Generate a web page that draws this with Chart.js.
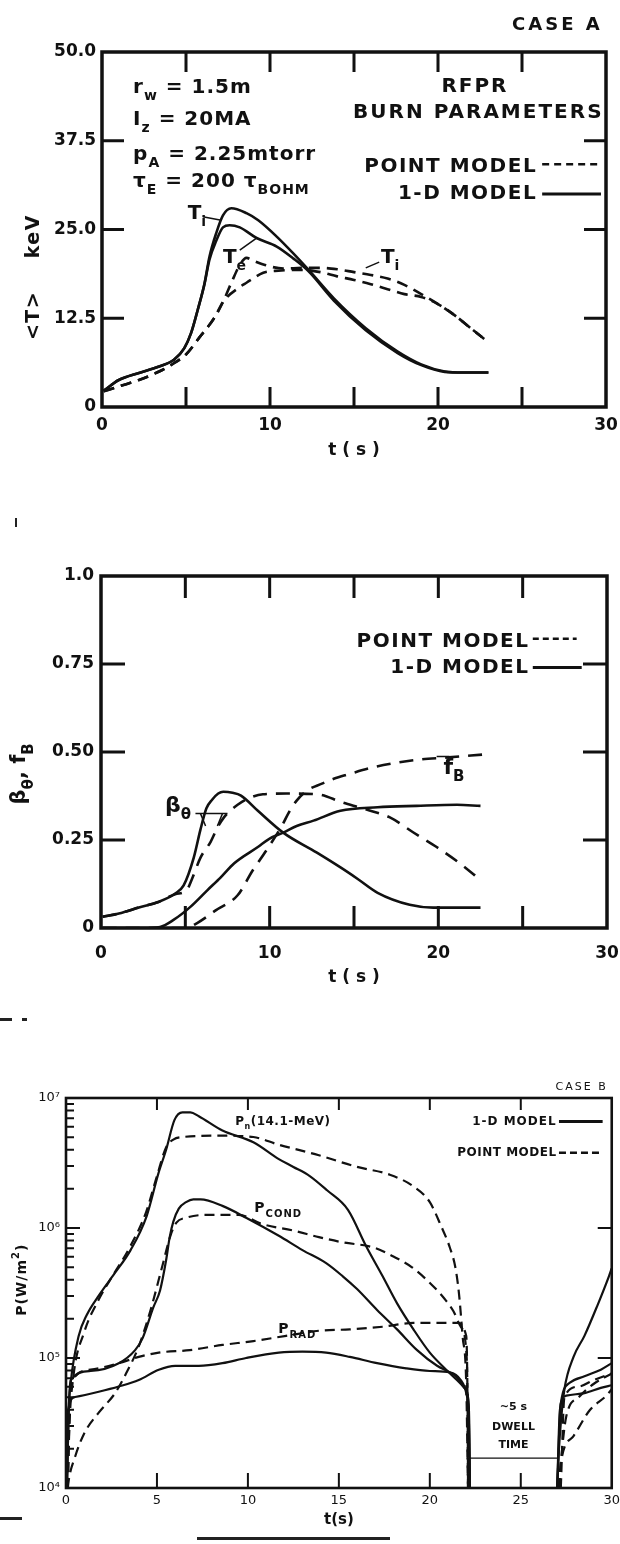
<!DOCTYPE html>
<html>
<head>
<meta charset="utf-8">
<script src="https://cdn.jsdelivr.net/npm/chart.js@4.4.1/dist/chart.umd.min.js"></script>
<style>
  html, body { margin: 0; padding: 0; background: #fff; }
  body { width: 620px; height: 1544px; position: relative; overflow: hidden; }
  canvas { position: absolute; left: 0; }
  .speck { position: absolute; background: #222; }
</style>
</head>
<body>
<canvas id="tempChart" width="620" height="470" style="top:0"></canvas>
<canvas id="betaChart" width="620" height="520" style="top:480px"></canvas>
<canvas id="powerChart" width="620" height="544" style="top:1000px"></canvas>

<div class="speck" style="left:15px;top:518px;width:2px;height:9px"></div>
<div class="speck" style="left:0;top:1018px;width:12px;height:3px"></div>
<div class="speck" style="left:22px;top:1018px;width:5px;height:3px"></div>
<div class="speck" style="left:0;top:1517px;width:22px;height:3px"></div>
<div class="speck" style="left:197px;top:1537px;width:193px;height:3px"></div>

<script>
// ---- panel 1 : <T> (keV) vs t (s) ----
const timeTicks = [0, 10, 20, 30];
const timeMarks = [5, 10, 15, 20, 25];
const tempTicks = [0, 12.5, 25, 37.5, 50];
const tempTickLabels = ["0", "12.5", "25.0", "37.5", "50.0"];
const tempMarks = [12.5, 25, 37.5];

const tiOneD = [[0.1,2.3],[1.0,3.8],[2.2,4.8],[3.4,5.7],[4.3,6.7],[4.9,8.3],[5.3,10.4],[5.7,13.7],[6.1,17.4],[6.4,21.2],[6.8,24.5],[7.2,27.0],[7.7,28.0],[8.6,27.3],[9.3,26.3],[10.4,24.0],[11.4,21.6],[12.3,19.3],[13.8,15.3],[15.7,11.1],[17.6,7.8],[19.0,6.0],[20.4,5.0],[21.5,4.85],[23.0,4.85]];
const teOneD = [[0.1,2.3],[1.0,3.8],[2.2,4.8],[3.4,5.7],[4.3,6.7],[4.9,8.3],[5.3,10.4],[5.7,13.7],[6.1,17.3],[6.4,20.8],[6.8,23.4],[7.2,25.3],[7.6,25.6],[8.2,25.3],[9.2,23.8],[10.4,22.6],[11.4,20.9],[12.3,19.1],[13.8,15.0],[15.7,10.8],[17.6,7.6],[19.0,5.9],[20.4,4.95],[21.5,4.85],[23.0,4.85]];
const tePoint = [[0.1,2.2],[1.0,2.9],[2.2,3.8],[3.4,5.0],[4.3,6.2],[5.0,7.4],[5.8,9.8],[6.7,12.6],[7.2,14.8],[7.7,17.5],[8.2,20.0],[8.6,21.0],[9.0,20.6],[9.7,20.0],[10.8,19.5],[12.0,19.6],[13.0,19.6],[14.0,19.4],[15.0,19.0],[16.0,18.6],[17.0,18.1],[18.0,17.2],[19.0,15.9],[20.0,14.5],[21.0,12.9],[22.0,11.0],[22.8,9.5]];
const tiPoint = [[0.1,2.2],[1.0,2.9],[2.2,3.8],[3.4,5.0],[4.3,6.2],[5.0,7.4],[5.8,9.8],[6.7,12.6],[7.2,14.8],[8.2,16.9],[8.6,17.5],[9.6,18.9],[10.5,19.2],[12.0,19.3],[13.0,19.0],[14.0,18.4],[15.0,17.9],[16.0,17.3],[17.0,16.6],[18.0,15.9],[19.0,15.5],[20.0,14.5],[21.0,12.9],[22.0,11.0],[22.8,9.5]];

// ---- panel 2 : beta_theta, f_B vs t (s) ----
const fracTicks = [0, 0.25, 0.5, 0.75, 1.0];
const fracTickLabels = ["0", "0.25", "0.50", "0.75", "1.0"];
const fracMarks = [0.25, 0.5, 0.75];

const betaOneD = [[0.1,0.032],[1.06,0.041],[2.3,0.059],[3.4,0.074],[4.4,0.098],[4.9,0.121],[5.5,0.2],[5.9,0.28],[6.25,0.34],[6.6,0.365],[6.95,0.382],[7.25,0.387],[7.8,0.384],[8.3,0.376],[9.3,0.333],[10.8,0.271],[12.8,0.214],[14.2,0.172],[15.2,0.14],[16.4,0.1],[18.3,0.066],[19.7,0.058],[22.5,0.058]];
const betaPoint = [[0.1,0.032],[1.06,0.041],[2.3,0.059],[3.4,0.074],[4.4,0.096],[5.07,0.107],[5.4,0.14],[5.9,0.2],[6.5,0.245],[6.9,0.285],[7.3,0.315],[7.7,0.335],[8.1,0.35],[8.6,0.365],[9.6,0.38],[11.0,0.382],[12.8,0.38],[14.3,0.357],[15.7,0.337],[17.1,0.315],[18.5,0.272],[19.9,0.23],[21.3,0.183],[22.5,0.136]];
const fbOneD = [[0.1,0.0],[2.5,0.0],[3.5,0.003],[4.3,0.023],[5.3,0.06],[6.3,0.107],[7.1,0.144],[7.9,0.184],[9.3,0.23],[10.0,0.254],[10.8,0.271],[11.6,0.29],[12.6,0.305],[14.2,0.333],[16.4,0.343],[18.7,0.347],[21.1,0.35],[22.5,0.347]];
const fbPoint = [[0.1,0.0],[5.0,0.0],[5.7,0.014],[6.8,0.05],[8.1,0.093],[9.0,0.164],[9.8,0.22],[10.8,0.297],[11.1,0.325],[11.6,0.362],[12.2,0.39],[13.1,0.41],[13.8,0.424],[14.7,0.437],[16.1,0.456],[17.6,0.47],[19.0,0.479],[20.4,0.484],[22.7,0.493]];

// ---- panel 3 : P (W/m^2) vs t (s), log axis ----
const cycleTicks = [0, 5, 10, 15, 20, 25, 30];
const powerTicks = [1e4, 1e5, 1e6, 1e7];
const powerTickLabels = ["10\u2074", "10\u2075", "10\u2076", "10\u2077"];
const powerMarks = [1e5, 1e6];
const powerMinor = [2e4,3e4,4e4,5e4,6e4,7e4,8e4,9e4,2e5,3e5,4e5,5e5,6e5,7e5,8e5,9e5,2e6,3e6,4e6,5e6,6e6,7e6,8e6,9e6];

const pnOneD = [[0.05,1e4],[0.15,3.98e4],[0.26,6.46e4],[0.7,1.48e5],[1.14,2.14e5],[1.8,3.02e5],[2.67,4.47e5],[3.55,6.76e5],[4.43,1.23e6],[5.08,2.63e6],[5.5,3.98e6],[5.96,6.76e6],[6.4,7.76e6],[6.84,7.76e6],[7.3,7.24e6],[8.6,5.62e6],[10.3,4.57e6],[11.7,3.39e6],[12.5,2.95e6],[13.4,2.51e6],[14.35,1.95e6],[15.5,1.38e6],[16.5,7.24e5],[17.4,4.27e5],[18.2,2.63e5],[19.1,1.66e5],[20.0,1.10e5],[20.9,8.13e4],[21.5,6.76e4],[21.96,5.75e4],[22.15,3.98e4],[22.2,1e4],[24.5,null],[27.0,1e4],[27.1,2.0e4],[27.2,3.16e4],[27.4,5.75e4],[27.9,1.02e5],[28.5,1.48e5],[29.2,2.51e5],[29.85,4.27e5],[30,4.9e5]];
const pnPoint = [[0.1,1e4],[0.18,2.82e4],[0.4,7.08e4],[1.0,1.58e5],[1.8,2.82e5],[2.6,4.37e5],[3.5,7.08e5],[4.4,1.32e6],[5.0,2.51e6],[5.5,4.17e6],[5.9,4.79e6],[6.4,5.01e6],[8.6,5.13e6],[10.3,5.01e6],[11.7,4.37e6],[13.9,3.63e6],[16.0,2.95e6],[17.8,2.57e6],[19.1,2.09e6],[20.0,1.58e6],[20.6,1.05e6],[21.1,7.08e5],[21.4,5.01e5],[21.6,3.16e5],[21.8,1.48e5],[22.0,6.46e4],[22.1,1e4],[24.5,null],[27.1,1e4],[27.2,1.55e4],[27.5,3.55e4],[28.2,5.01e4],[29.0,6.31e4],[30,7.59e4]];
const pcondOneD = [[0.05,1e4],[0.15,3.98e4],[0.26,6.76e4],[1.36,7.94e4],[2.9,9.12e4],[3.8,1.15e5],[4.2,1.41e5],[4.8,2.45e5],[5.17,3.31e5],[5.5,5.62e5],[5.7,8.51e5],[5.9,1.12e6],[6.2,1.41e6],[6.6,1.58e6],[7.0,1.66e6],[7.4,1.66e6],[8.6,1.48e6],[9.9,1.20e6],[11.7,8.71e5],[13.0,6.76e5],[14.3,5.37e5],[15.2,4.27e5],[16.0,3.39e5],[17.1,2.34e5],[18.2,1.66e5],[19.3,1.15e5],[20.4,8.71e4],[21.1,7.76e4],[21.5,7.08e4],[21.96,5.75e4],[22.15,3.98e4],[22.2,1e4],[24.5,null],[27.0,1e4],[27.15,3.98e4],[27.7,6.46e4],[28.5,7.24e4],[29.4,8.13e4],[30,9.12e4]];
const pcondPoint = [[0.1,1e4],[0.15,1.15e4],[0.5,1.74e4],[1.0,2.63e4],[1.8,3.8e4],[2.7,5.37e4],[3.3,7.59e4],[4.0,1.23e5],[4.65,2.34e5],[5.3,5.13e5],[5.74,8.71e5],[6.07,1.10e6],[6.6,1.20e6],[7.7,1.26e6],[9.5,1.26e6],[10.8,1.07e6],[12.5,9.55e5],[13.9,8.51e5],[15.2,7.76e5],[16.9,7.08e5],[18.0,6.03e5],[19.0,5.01e5],[20.2,3.55e5],[20.9,2.75e5],[21.3,2.29e5],[21.7,1.74e5],[22.0,1.15e5],[22.08,3.55e4],[22.1,1e4],[24.5,null],[27.1,1e4],[27.2,1.55e4],[27.9,2.51e4],[28.8,3.98e4],[29.7,5.13e4],[30,5.75e4]];
const pradOneD = [[0.05,1e4],[0.12,3.98e4],[0.5,5.01e4],[1.8,5.5e4],[2.9,6.03e4],[4.0,6.76e4],[5.1,8.13e4],[6.0,8.71e4],[7.3,8.71e4],[8.6,9.12e4],[9.9,1.0e5],[11.7,1.10e5],[13.0,1.12e5],[14.3,1.10e5],[15.6,1.02e5],[17.1,9.12e4],[18.7,8.32e4],[20.0,7.94e4],[21.1,7.76e4],[21.7,6.76e4],[22.0,5.37e4],[22.15,3.16e4],[22.2,1e4],[24.5,null],[27.0,1e4],[27.2,4.47e4],[27.5,5.13e4],[28.5,5.37e4],[29.4,5.89e4],[30,6.17e4]];
const pradPoint = [[0.1,1e4],[0.2,3.98e4],[0.37,6.76e4],[1.36,8.13e4],[2.9,9.12e4],[4.0,1.02e5],[5.1,1.10e5],[6.8,1.15e5],[8.6,1.26e5],[10.3,1.35e5],[12.1,1.48e5],[13.9,1.62e5],[15.6,1.66e5],[17.4,1.74e5],[19.1,1.86e5],[20.4,1.86e5],[21.5,1.86e5],[22.0,1.48e5],[22.08,3.55e4],[22.1,1e4],[24.5,null],[27.2,1e4],[27.4,5.01e4],[28.2,6.03e4],[29.0,6.76e4],[30,7.59e4]];
const dwellLevel = [[22.2,1.7e4],[27.0,1.7e4]];

const INK = "#111";
const FAMILY = '"DejaVu Sans", sans-serif';
Chart.defaults.font.family = "DejaVu Sans";
Chart.defaults.color = INK;

function series(label, points, width, dash) {
  return {
    label,
    data: points.map(p => ({ x: p[0], y: p[1] })),
    borderColor: INK,
    borderWidth: width,
    borderDash: dash || [],
    borderJoinStyle: "round",
    pointRadius: 0,
    fill: false,
    spanGaps: false,
    cubicInterpolationMode: "monotone"
  };
}

// label gap comes from the (undrawn) tick length so it does not widen the side padding
function axis(o) {
  return {
    type: o.type || "linear",
    min: o.min,
    max: o.max,
    grid: { display: false, drawTicks: true, tickLength: o.pad },
    border: { display: false },
    afterBuildTicks: s => { s.ticks = o.ticks.map(v => ({ value: v })); },
    afterFit: s => {
      if (o.width) s.width = o.width;
      if (o.height) s.height = o.height;
    },
    ticks: {
      color: INK,
      autoSkip: false,
      maxRotation: 0,
      padding: 0,
      font: o.font,
      callback: (v, i) => o.labels[i]
    },
    title: o.title ? {
      display: true,
      text: o.title.text,
      color: INK,
      font: o.title.font,
      padding: { top: 0, bottom: o.title.bottom }
    } : { display: false }
  };
}

// rich text: parts = [[text, "sub"|"sup"|undefined], ...]
function label(ctx, x, y, parts, o = {}) {
  const size = o.size || 20;
  const weight = o.weight || "bold";
  ctx.save();
  ctx.translate(x, y);
  if (o.rotate) ctx.rotate(-Math.PI / 2);
  ctx.fillStyle = INK;
  ctx.textBaseline = "middle";
  ctx.textAlign = "left";
  ctx.letterSpacing = (o.spacing || 0) + "px";
  const fontOf = p => `${weight} ${p[1] ? Math.round(size * 0.7) : size}px ${FAMILY}`;
  const widths = parts.map(p => { ctx.font = fontOf(p); return ctx.measureText(p[0]).width; });
  const total = widths.reduce((s, w) => s + w, 0);
  let cx = o.align === "right" ? -total : o.align === "center" ? -total / 2 : 0;
  parts.forEach((p, i) => {
    ctx.font = fontOf(p);
    const dy = p[1] === "sub" ? size * 0.42 : p[1] === "sup" ? -size * 0.38 : 0;
    ctx.fillText(p[0], cx, dy);
    cx += widths[i];
  });
  ctx.restore();
}

function stroke(ctx, pts, width, dash) {
  ctx.save();
  ctx.strokeStyle = INK;
  ctx.lineWidth = width;
  ctx.setLineDash(dash || []);
  ctx.beginPath();
  pts.forEach((p, i) => (i ? ctx.lineTo(p[0], p[1]) : ctx.moveTo(p[0], p[1])));
  ctx.stroke();
  ctx.restore();
}

// box, inward tick marks and annotations
function framePlugin(cfg) {
  return {
    id: "frame",
    afterDatasetsDraw(chart) {
      const { ctx, chartArea: a, scales: { x, y } } = chart;
      ctx.save();
      ctx.strokeStyle = INK;
      ctx.lineWidth = cfg.tickWidth;
      ctx.beginPath();
      cfg.xMarks.forEach(v => {
        const px = x.getPixelForValue(v);
        ctx.moveTo(px, a.bottom); ctx.lineTo(px, a.bottom - cfg.tickLen);
        ctx.moveTo(px, a.top); ctx.lineTo(px, a.top + cfg.topLen);
      });
      cfg.yMarks.forEach(v => {
        const py = y.getPixelForValue(v);
        ctx.moveTo(a.left, py); ctx.lineTo(a.left + cfg.sideLen, py);
        ctx.moveTo(a.right, py); ctx.lineTo(a.right - cfg.sideLen, py);
      });
      (cfg.yMinor || []).forEach(v => {
        const py = y.getPixelForValue(v);
        ctx.moveTo(a.left, py); ctx.lineTo(a.left + cfg.minorLen, py);
      });
      ctx.stroke();
      ctx.lineWidth = cfg.frameWidth;
      ctx.strokeRect(a.left, a.top, a.right - a.left, a.bottom - a.top);
      ctx.restore();
      cfg.annotate(chart);
    }
  };
}

const baseOptions = (padding, scales) => ({
  responsive: false,
  animation: false,
  devicePixelRatio: 1,
  events: [],
  layout: { padding },
  plugins: { legend: { display: false }, tooltip: { enabled: false } },
  scales
});

// ---------- panel 1 ----------
const bigTick = { size: 17, weight: "bold" };
new Chart(document.getElementById("tempChart"), {
  type: "line",
  data: {
    datasets: [
      series("T_i 1-D model", tiOneD, 2.6),
      series("T_e 1-D model", teOneD, 2.6),
      series("T_e point model", tePoint, 2.6, [11, 7]),
      series("T_i point model", tiPoint, 2.6, [11, 7])
    ]
  },
  options: baseOptions({ top: 52, right: 14, left: 0, bottom: 0 }, {
    x: axis({ min: 0, max: 30, ticks: timeTicks, labels: timeTicks.map(String), height: 63, pad: 8, font: bigTick,
      title: { text: "t ( s )", font: { size: 17, weight: "bold" }, bottom: 9 } }),
    y: axis({ min: 0, max: 50, ticks: tempTicks, labels: tempTickLabels, width: 102, pad: 6, font: bigTick })
  }),
  plugins: [framePlugin({
    xMarks: timeMarks, yMarks: tempMarks, tickLen: 20, topLen: 20, sideLen: 22,
    tickWidth: 3, frameWidth: 3.5,
    annotate(chart) {
      const { ctx, chartArea: a, scales: { x, y } } = chart;
      const X = v => x.getPixelForValue(v), Y = v => y.getPixelForValue(v);
      const big = { size: 20, spacing: 1 };
      label(ctx, X(29.8), a.top - 27, [["CASE A"]], { size: 18, align: "right", spacing: 3 });
      label(ctx, X(1.85), Y(44.9), [["r"], ["w", "sub"], [" = 1.5m"]], big);
      label(ctx, X(1.85), Y(40.4), [["I"], ["z", "sub"], [" = 20MA"]], big);
      label(ctx, X(1.85), Y(35.5), [["p"], ["A", "sub"], [" = 2.25mtorr"]], big);
      label(ctx, X(1.85), Y(31.7), [["\u03c4"], ["E", "sub"], [" = 200 \u03c4"], ["BOHM", "sub"]], big);
      label(ctx, X(22.2), Y(45.1), [["RFPR"]], { size: 20, align: "center", spacing: 2 });
      label(ctx, X(22.4), Y(41.4), [["BURN PARAMETERS"]], { size: 20, align: "center", spacing: 2 });
      label(ctx, X(25.9), Y(33.8), [["POINT MODEL"]], { size: 20, align: "right", spacing: 1.5 });
      stroke(ctx, [[X(26.2), Y(34.2)], [X(29.6), Y(34.2)]], 2.5, [7, 5]);
      label(ctx, X(25.9), Y(30.0), [["1-D MODEL"]], { size: 20, align: "right", spacing: 1.5 });
      stroke(ctx, [[X(26.2), Y(30.0)], [X(29.7), Y(30.0)]], 3);
      label(ctx, X(5.1), Y(27.2), [["T"], ["i", "sub"]], { size: 20 });
      stroke(ctx, [[X(6.0), Y(26.8)], [X(7.1), Y(26.3)]], 1.5);
      label(ctx, X(7.2), Y(21.0), [["T"], ["e", "sub"]], { size: 20 });
      stroke(ctx, [[X(8.2), Y(22.1)], [X(9.2), Y(23.8)]], 1.5);
      label(ctx, X(16.6), Y(21.0), [["T"], ["i", "sub"]], { size: 20 });
      stroke(ctx, [[X(16.5), Y(20.4)], [X(15.7), Y(19.6)]], 1.5);
      label(ctx, a.left - 68, Y(18.3), [["<T>"], ["    keV"]], { size: 19, rotate: true, align: "center", spacing: 1.5 });
    }
  })]
});

// ---------- panel 2 ----------
new Chart(document.getElementById("betaChart"), {
  type: "line",
  data: {
    datasets: [
      series("beta_theta 1-D model", betaOneD, 2.6),
      series("beta_theta point model", betaPoint, 2.6, [14, 9]),
      series("f_B 1-D model", fbOneD, 2.6),
      series("f_B point model", fbPoint, 2.6, [14, 9])
    ]
  },
  options: baseOptions({ top: 96, right: 13, left: 0, bottom: 0 }, {
    x: axis({ min: 0, max: 30, ticks: timeTicks, labels: timeTicks.map(String), height: 72, pad: 15, font: bigTick,
      title: { text: "t ( s )", font: { size: 17, weight: "bold" }, bottom: 12 } }),
    y: axis({ min: 0, max: 1, ticks: fracTicks, labels: fracTickLabels, width: 101, pad: 7, font: bigTick })
  }),
  plugins: [framePlugin({
    xMarks: timeMarks, yMarks: fracMarks, tickLen: 22, topLen: 22, sideLen: 24,
    tickWidth: 3, frameWidth: 3.5,
    annotate(chart) {
      const { ctx, chartArea: a, scales: { x, y } } = chart;
      const X = v => x.getPixelForValue(v), Y = v => y.getPixelForValue(v);
      label(ctx, X(25.4), Y(0.814), [["POINT MODEL"]], { size: 20, align: "right", spacing: 1.5 });
      stroke(ctx, [[X(25.6), Y(0.822)], [X(28.2), Y(0.822)]], 2.5, [6, 4]);
      label(ctx, X(25.4), Y(0.74), [["1-D MODEL"]], { size: 20, align: "right", spacing: 1.5 });
      stroke(ctx, [[X(25.6), Y(0.74)], [X(28.5), Y(0.74)]], 3);
      label(ctx, X(3.8), Y(0.347), [["\u03b2"], ["\u03b8", "sub"]], { size: 22 });
      stroke(ctx, [[X(5.6), Y(0.325)], [X(7.5), Y(0.325)]], 1.5);
      stroke(ctx, [[X(5.9), Y(0.325)], [X(6.2), Y(0.29)]], 1.5);
      stroke(ctx, [[X(7.2), Y(0.325)], [X(6.9), Y(0.29)]], 1.5);
      label(ctx, X(20.3), Y(0.455), [["f"], ["B", "sub"]], { size: 22 });
      stroke(ctx, [[X(19.9), Y(0.487)], [X(20.6), Y(0.487)], [X(20.6), Y(0.46)]], 1.5);
      label(ctx, a.left - 81, Y(0.438), [["\u03b2"], ["\u03b8", "sub"], [", f"], ["B", "sub"]], { size: 21, rotate: true, align: "center" });
    }
  })]
});

// ---------- panel 3 ----------
const smallTick = { size: 13, weight: "normal" };
new Chart(document.getElementById("powerChart"), {
  type: "line",
  data: {
    datasets: [
      series("P_n 1-D model", pnOneD, 2.2),
      series("P_n point model", pnPoint, 2.2, [10, 6]),
      series("P_cond 1-D model", pcondOneD, 2.2),
      series("P_cond point model", pcondPoint, 2.2, [10, 6]),
      series("P_rad 1-D model", pradOneD, 2.2),
      series("P_rad point model", pradPoint, 2.2, [10, 6]),
      series("dwell", dwellLevel, 1.2)
    ]
  },
  options: baseOptions({ top: 98, right: 8, left: 0, bottom: 0 }, {
    x: axis({ min: 0, max: 30, ticks: cycleTicks, labels: cycleTicks.map(String), height: 56, pad: 5, font: smallTick,
      title: { text: "t(s)", font: { size: 15, weight: "bold" }, bottom: 15 } }),
    y: axis({ type: "logarithmic", min: 1e4, max: 1e7, ticks: powerTicks, labels: powerTickLabels, width: 66, pad: 6, font: smallTick })
  }),
  plugins: [framePlugin({
    xMarks: timeMarks, yMarks: powerMarks, yMinor: powerMinor, tickLen: 15, topLen: 12, sideLen: 14, minorLen: 8,
    tickWidth: 2, frameWidth: 2.6,
    annotate(chart) {
      const { ctx, chartArea: a, scales: { x, y } } = chart;
      const X = v => x.getPixelForValue(v), Y = v => y.getPixelForValue(v);
      label(ctx, a.right - 4, a.top - 11, [["CASE B"]], { size: 11, align: "right", spacing: 2, weight: "normal" });
      label(ctx, X(9.3), Y(6.6e6), [["P"], ["n", "sub"], ["(14.1-MeV)"]], { size: 12, spacing: 0.5 });
      label(ctx, X(10.35), Y(1.42e6), [["P"], ["COND", "sub"]], { size: 14, spacing: 1 });
      label(ctx, X(11.67), Y(1.66e5), [["P"], ["RAD", "sub"]], { size: 14, spacing: 1 });
      label(ctx, X(24.6), Y(4.2e4), [["~5 s"]], { size: 11, align: "center" });
      label(ctx, X(24.6), Y(2.95e4), [["DWELL"]], { size: 11, align: "center" });
      label(ctx, X(24.6), Y(2.14e4), [["TIME"]], { size: 11, align: "center" });
      label(ctx, X(26.97), Y(6.6e6), [["1-D MODEL"]], { size: 12, align: "right", spacing: 1 });
      stroke(ctx, [[X(27.1), Y(6.6e6)], [X(29.5), Y(6.6e6)]], 3);
      label(ctx, X(26.97), Y(3.8e6), [["POINT MODEL"]], { size: 12, align: "right", spacing: 0.5 });
      stroke(ctx, [[X(27.1), Y(3.8e6)], [X(29.5), Y(3.8e6)]], 2.5, [7, 4]);
      label(ctx, a.left - 44, Y(4e5), [["P(W/m"], ["2", "sup"], [")"]], { size: 14, rotate: true, align: "center", spacing: 1 });
    }
  })]
});
</script>
</body>
</html>
